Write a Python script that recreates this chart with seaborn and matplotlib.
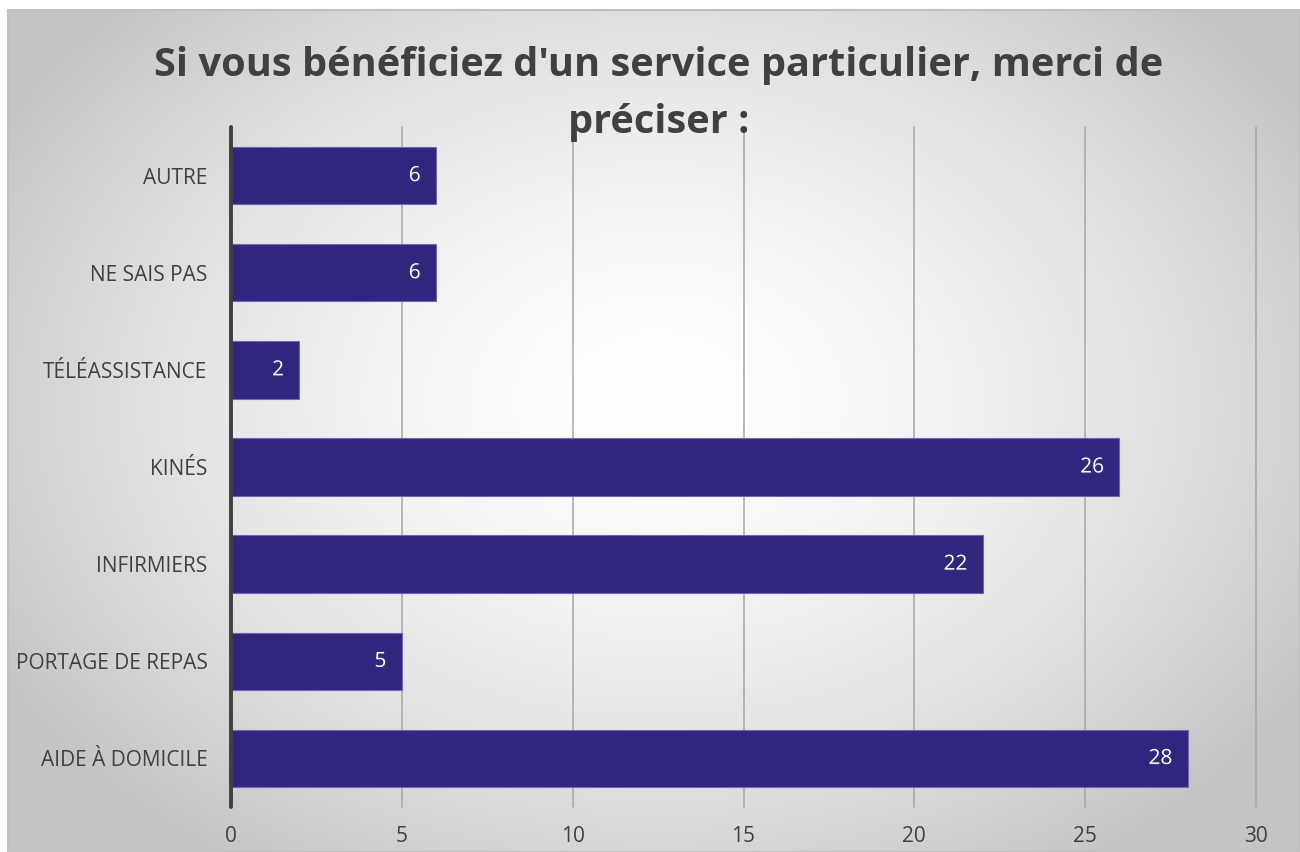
import matplotlib
matplotlib.use("Agg")
import matplotlib.pyplot as plt
import seaborn as sns
import numpy as np
from matplotlib.patches import Rectangle
import matplotlib.patheffects as pe

# data
categories = ["AUTRE", "NE SAIS PAS", "TÉLÉASSISTANCE", "KINÉS",
              "INFIRMIERS", "PORTAGE DE REPAS", "AIDE À DOMICILE"]
values = [6, 6, 2, 26, 22, 5, 28]
x_ticks = [0, 5, 10, 15, 20, 25, 30]
title = "Si vous bénéficiez d'un service particulier, merci de\npréciser :"

sns.set_theme(style="white")
plt.rcParams['font.family'] = ['Open Sans', 'DejaVu Sans']

W, H = 1300, 852
fig = plt.figure(figsize=(W / 100, H / 100), dpi=100)
fig.patch.set_facecolor("white")

# background panel with radial gradient
px0, py_top = 8, 10
bg = fig.add_axes([px0 / W, 0, 1 - px0 / W, (H - py_top) / H], zorder=0)
gy, gx = np.mgrid[0:H - py_top, 0:W - px0]
cx, cy = 650, 390
d = np.sqrt(((gx - cx) / 760.0) ** 2 + ((gy - cy) / 560.0) ** 2)
d = np.clip(d, 0, 1)
g = 1.0 - 0.23 * d ** 1.6
bg.imshow(np.dstack([g, g, g]), aspect="auto", interpolation="bilinear")
bg.set_axis_off()
fig.patches.append(Rectangle((px0 / W, 0), 1 - px0 / W, (H - py_top) / H,
                             transform=fig.transFigure, fill=False,
                             edgecolor="#c0c0c0", linewidth=1.5, zorder=1))

# main axes
left, right, top, bottom = 231, 1256, 127, 807
ax = fig.add_axes([left / W, (H - bottom) / H, (right - left) / W, (bottom - top) / H], zorder=2)
ax.set_facecolor("none")

bar_color = "#30267e"
sns.barplot(x=values, y=categories, orient="h", color=bar_color, saturation=1,
            width=0.59, edgecolor="#6f66b8", linewidth=0.8, ax=ax, zorder=3)

ax.set_xlim(0, 30)
ax.set_ylim(6.5, -0.5)
ax.set_xticks(x_ticks)
ax.set_xlabel("")
ax.set_ylabel("")
for x in x_ticks[1:]:
    ax.axvline(x, color="#a6a6a6", linewidth=1.1, zorder=1, clip_on=False)
ax.axvline(0, color="#404040", linewidth=2.8, zorder=10, clip_on=False)
for s in ax.spines.values():
    s.set_visible(False)
ax.tick_params(axis="x", length=0, pad=14, labelsize=15, labelcolor="#404040")
ax.tick_params(axis="y", length=0, pad=17, labelsize=15, labelcolor="#404040")

for i, v in enumerate(values):
    ax.text(v - 0.45, i, str(v), color="white", fontsize=15, ha="right", va="center",
            zorder=11, path_effects=[pe.withSimplePatchShadow(offset=(0.8, -0.8), alpha=0.4)])

fig.text(0.507, 1 - 94 / H, title, ha="center", va="center", fontsize=28.6, fontweight="bold",
         color="#404040", linespacing=1.6, zorder=6)

fig.savefig("out.png", dpi=100)
